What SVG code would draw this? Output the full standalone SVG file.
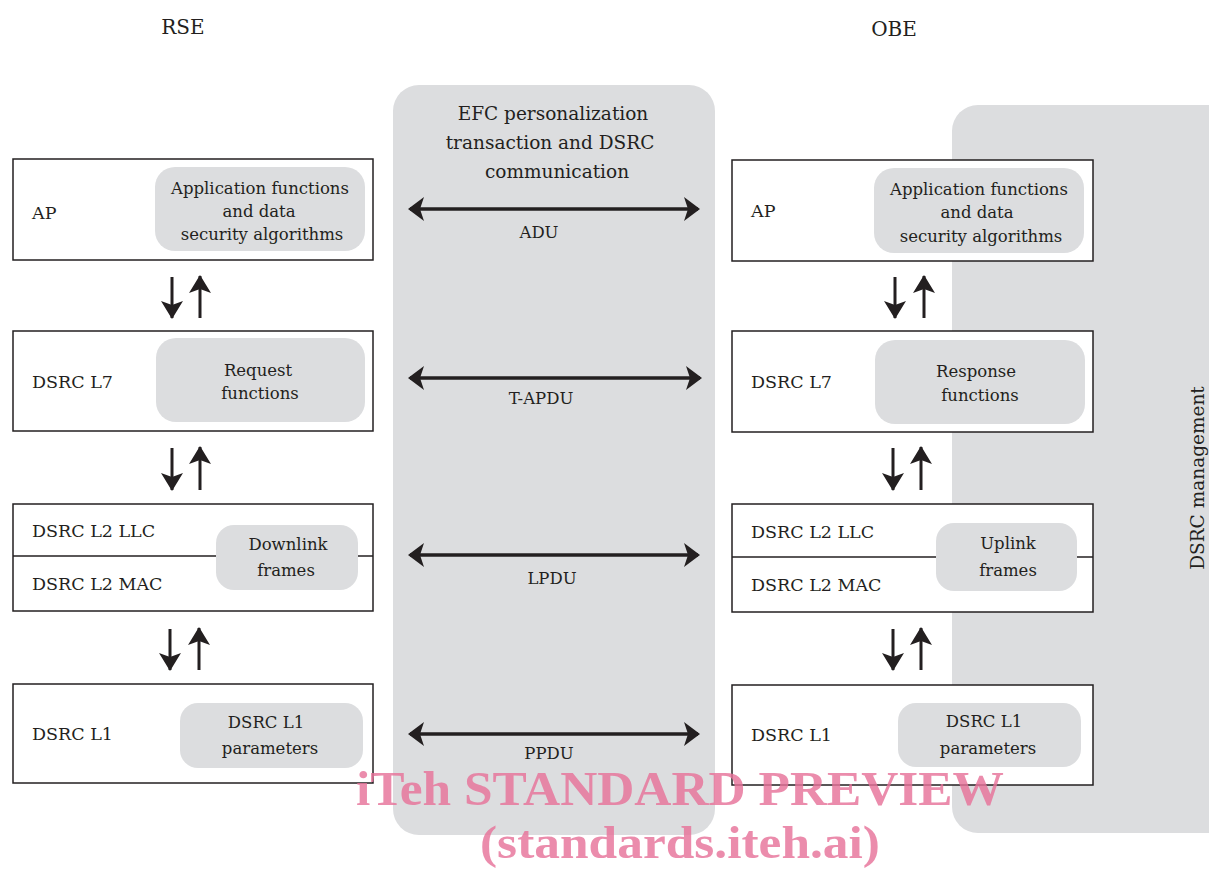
<svg xmlns="http://www.w3.org/2000/svg" width="1209" height="870" viewBox="0 0 1209 870">
<defs>
<style>
.t{font-family:"DejaVu Serif","Liberation Serif",serif;fill:#231f20;}
.s18{font-size:16.5px;}
.s19{font-size:17.5px;}
.s20{font-size:18.5px;}
.s22{font-size:20px;}
.box{fill:#fff;stroke:#231f20;stroke-width:1.5;}
.inner{fill:#dcdddf;}
.panel{fill:#dcdddf;}
.ha{stroke:#231f20;stroke-width:3.5;fill:none;}
.va{stroke:#231f20;stroke-width:3;fill:none;}
.wm{font-family:"Liberation Serif","Times New Roman",serif;font-weight:bold;fill:#e6739a;fill-opacity:0.82;}
</style>
<marker id="ah" viewBox="0 0 16 24" refX="14" refY="12" markerWidth="16" markerHeight="24" markerUnits="userSpaceOnUse" orient="auto-start-reverse">
<path d="M0,0 L16,12 L0,24 L4,12 Z" fill="#231f20"/>
</marker>
<marker id="vh" viewBox="0 0 18 22" refX="17" refY="11" markerWidth="18" markerHeight="22" markerUnits="userSpaceOnUse" orient="auto">
<path d="M0,0 L18,11 L0,22 L4,11 Z" fill="#231f20"/>
</marker>
</defs>
<rect width="1209" height="870" fill="#fff"/>

<g id="headers">
<text class="t s22" x="183" y="34" text-anchor="middle">RSE</text>
<text class="t s22" x="894" y="36" text-anchor="middle">OBE</text>
</g>

<g id="center-panel">
<rect class="panel" x="393" y="85" width="322" height="750" rx="26"/>
<text class="t s20" x="553" y="120" text-anchor="middle">EFC personalization</text>
<text class="t s20" x="550" y="149" text-anchor="middle">transaction and DSRC</text>
<text class="t s20" x="557" y="178" text-anchor="middle">communication</text>
</g>

<g id="management-panel">
<rect class="panel" x="952" y="105" width="290" height="728" rx="26"/>
<text class="t s20" transform="translate(1204,478) rotate(-90)" text-anchor="middle">DSRC management</text>
</g>

<g id="rse-ap">
<rect class="box" x="13" y="159" width="360" height="101"/>
<text class="t s19" x="32" y="219">AP</text>
<rect class="inner" x="155" y="167" width="210" height="84" rx="20"/>
<text class="t s18" x="260" y="194" text-anchor="middle">Application functions</text>
<text class="t s18" x="259" y="217" text-anchor="middle">and data</text>
<text class="t s18" x="262" y="240" text-anchor="middle">security algorithms</text>
</g>

<g id="rse-l7">
<rect class="box" x="13" y="331" width="360" height="100"/>
<text class="t s19" x="32" y="388">DSRC L7</text>
<rect class="inner" x="156" y="338" width="209" height="84" rx="20"/>
<text class="t s18" x="258" y="376" text-anchor="middle">Request</text>
<text class="t s18" x="260" y="399" text-anchor="middle">functions</text>
</g>

<g id="rse-l2">
<rect class="box" x="13" y="504" width="360" height="107"/>
<line x1="13" y1="556" x2="373" y2="556" stroke="#231f20" stroke-width="1.5"/>
<text class="t s19" x="32" y="537">DSRC L2 LLC</text>
<text class="t s19" x="32" y="590">DSRC L2 MAC</text>
<rect class="inner" x="216" y="525" width="142" height="65" rx="18"/>
<text class="t s18" x="288" y="550" text-anchor="middle">Downlink</text>
<text class="t s18" x="286" y="576" text-anchor="middle">frames</text>
</g>

<g id="rse-l1">
<rect class="box" x="13" y="684" width="360" height="99"/>
<text class="t s19" x="32" y="740">DSRC L1</text>
<rect class="inner" x="180" y="703" width="183" height="65" rx="18"/>
<text class="t s18" x="266" y="728" text-anchor="middle">DSRC L1</text>
<text class="t s18" x="270" y="754" text-anchor="middle">parameters</text>
</g>

<g id="obe-ap">
<rect class="box" x="732" y="160" width="361" height="101"/>
<text class="t s19" x="751" y="217">AP</text>
<rect class="inner" x="874" y="168" width="210" height="85" rx="20"/>
<text class="t s18" x="979" y="195" text-anchor="middle">Application functions</text>
<text class="t s18" x="977" y="218" text-anchor="middle">and data</text>
<text class="t s18" x="981" y="242" text-anchor="middle">security algorithms</text>
</g>

<g id="obe-l7">
<rect class="box" x="732" y="331" width="361" height="101"/>
<text class="t s19" x="751" y="388">DSRC L7</text>
<rect class="inner" x="875" y="340" width="210" height="84" rx="20"/>
<text class="t s18" x="976" y="377" text-anchor="middle">Response</text>
<text class="t s18" x="980" y="401" text-anchor="middle">functions</text>
</g>

<g id="obe-l2">
<rect class="box" x="732" y="504" width="361" height="108"/>
<line x1="732" y1="557" x2="1093" y2="557" stroke="#231f20" stroke-width="1.5"/>
<text class="t s19" x="751" y="538">DSRC L2 LLC</text>
<text class="t s19" x="751" y="591">DSRC L2 MAC</text>
<rect class="inner" x="936" y="523" width="141" height="68" rx="18"/>
<text class="t s18" x="1008" y="549" text-anchor="middle">Uplink</text>
<text class="t s18" x="1008" y="576" text-anchor="middle">frames</text>
</g>

<g id="obe-l1">
<rect class="box" x="732" y="685" width="361" height="100"/>
<text class="t s19" x="751" y="741">DSRC L1</text>
<rect class="inner" x="898" y="703" width="183" height="64" rx="18"/>
<text class="t s18" x="984" y="727" text-anchor="middle">DSRC L1</text>
<text class="t s18" x="988" y="754" text-anchor="middle">parameters</text>
</g>

<g id="connectors">
<line class="ha" x1="410" y1="209" x2="698" y2="209" marker-start="url(#ah)" marker-end="url(#ah)"/>
<line class="ha" x1="410" y1="378" x2="700" y2="378" marker-start="url(#ah)" marker-end="url(#ah)"/>
<line class="ha" x1="410" y1="555" x2="698" y2="555" marker-start="url(#ah)" marker-end="url(#ah)"/>
<line class="ha" x1="410" y1="734" x2="698" y2="734" marker-start="url(#ah)" marker-end="url(#ah)"/>
<text class="t s18" x="539" y="238" text-anchor="middle">ADU</text>
<text class="t s18" x="541" y="404" text-anchor="middle">T-APDU</text>
<text class="t s18" x="552" y="584" text-anchor="middle">LPDU</text>
<text class="t s18" x="549" y="759" text-anchor="middle">PPDU</text>

<line class="va" x1="172" y1="277" x2="172" y2="318" marker-end="url(#vh)"/>
<line class="va" x1="200" y1="318" x2="200" y2="276" marker-end="url(#vh)"/>
<line class="va" x1="172" y1="448" x2="172" y2="490" marker-end="url(#vh)"/>
<line class="va" x1="200" y1="490" x2="200" y2="447" marker-end="url(#vh)"/>
<line class="va" x1="170" y1="629" x2="170" y2="670" marker-end="url(#vh)"/>
<line class="va" x1="199" y1="670" x2="199" y2="628" marker-end="url(#vh)"/>

<line class="va" x1="895" y1="277" x2="895" y2="318" marker-end="url(#vh)"/>
<line class="va" x1="924" y1="318" x2="924" y2="276" marker-end="url(#vh)"/>
<line class="va" x1="893" y1="448" x2="893" y2="490" marker-end="url(#vh)"/>
<line class="va" x1="921" y1="490" x2="921" y2="447" marker-end="url(#vh)"/>
<line class="va" x1="893" y1="629" x2="893" y2="670" marker-end="url(#vh)"/>
<line class="va" x1="921" y1="670" x2="921" y2="628" marker-end="url(#vh)"/>
</g>

<g id="watermark">
<text class="wm" x="680" y="805" font-size="49" text-anchor="middle" textLength="648" lengthAdjust="spacingAndGlyphs">iTeh STANDARD PREVIEW</text>
<text class="wm" x="680" y="858" font-size="47" text-anchor="middle" textLength="400" lengthAdjust="spacingAndGlyphs">(standards.iteh.ai)</text>
</g>
</svg>
